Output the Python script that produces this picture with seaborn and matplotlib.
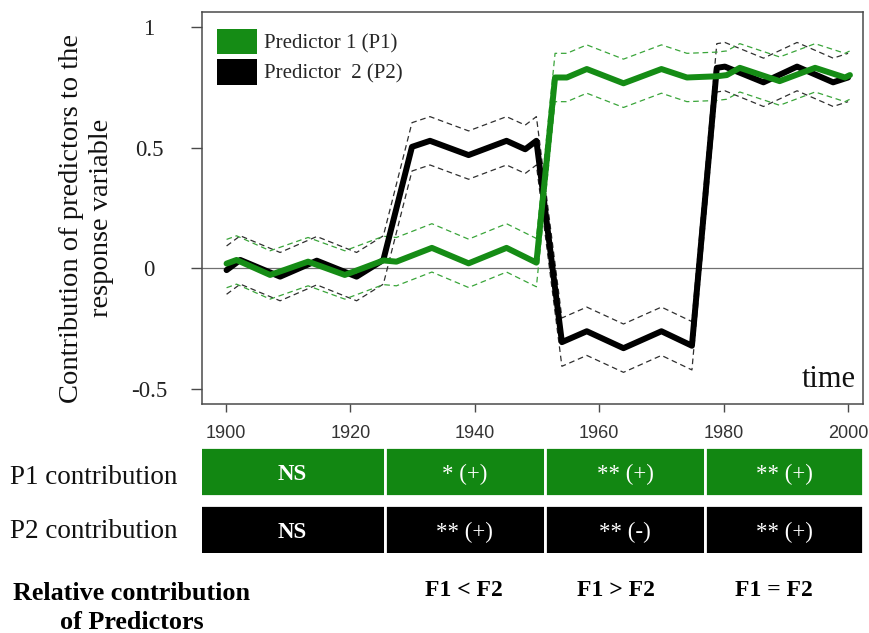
import matplotlib
matplotlib.use("Agg")
import matplotlib.pyplot as plt
from matplotlib.patches import Patch
import pandas as pd
import seaborn as sns

# ---------------- data ----------------
p1_years = [1900.1, 1901.7, 1907.1, 1913.2, 1919.1, 1925.3, 1927.4, 1933.1, 1939.0,
            1945.1, 1949.9, 1952.9, 1954.8, 1958.0, 1963.9, 1970.0, 1974.1, 1978.9,
            1980.5, 1982.6, 1989.0, 1994.7, 1999.5, 2000.3]
p1_values = [0.02, 0.035, -0.027, 0.028, -0.027, 0.033, 0.028, 0.085, 0.021,
             0.085, 0.024, 0.79, 0.79, 0.825, 0.766, 0.825, 0.79, 0.795,
             0.80, 0.83, 0.775, 0.83, 0.79, 0.80]
p1_upper = [0.12, 0.135, 0.073, 0.128, 0.073, 0.133, 0.128, 0.185, 0.121,
            0.185, 0.124, 0.89, 0.89, 0.925, 0.866, 0.925, 0.89, 0.895,
            0.90, 0.93, 0.875, 0.93, 0.89, 0.90]
p1_lower = [-0.08, -0.065, -0.127, -0.072, -0.127, -0.067, -0.072, -0.015, -0.079,
            -0.015, -0.076, 0.69, 0.69, 0.725, 0.666, 0.725, 0.69, 0.695,
            0.70, 0.73, 0.675, 0.73, 0.69, 0.70]

p2_years = [1900.1, 1902.3, 1908.7, 1914.6, 1921.0, 1925.3, 1929.9, 1932.8, 1939.0,
            1945.1, 1948.1, 1949.9, 1954.0, 1958.0, 1963.9, 1970.0, 1974.9, 1978.9,
            1980.2, 1986.4, 1991.8, 1997.6, 2000.0]
p2_values = [-0.007, 0.035, -0.034, 0.032, -0.034, 0.035, 0.503, 0.528, 0.469,
             0.528, 0.493, 0.528, -0.305, -0.26, -0.33, -0.26, -0.32, 0.83,
             0.835, 0.77, 0.835, 0.77, 0.79]
p2_upper = [0.093, 0.135, 0.066, 0.132, 0.066, 0.135, 0.603, 0.628, 0.569,
            0.628, 0.593, 0.628, -0.205, -0.16, -0.23, -0.16, -0.22, 0.93,
            0.935, 0.87, 0.935, 0.87, 0.89]
p2_lower = [-0.107, -0.065, -0.134, -0.068, -0.134, -0.065, 0.403, 0.428, 0.369,
            0.428, 0.393, 0.428, -0.405, -0.36, -0.43, -0.36, -0.42, 0.73,
            0.735, 0.67, 0.735, 0.67, 0.69]

x_ticks = [1900, 1920, 1940, 1960, 1980, 2000]
x_tick_labels = ["1900", "1920", "1940", "1960", "1980", "2000"]
y_ticks = [-0.5, 0, 0.5, 1]
y_tick_labels = ["-0.5", "0", "0.5", "1"]
legend_labels = ["Predictor 1 (P1)", "Predictor  2 (P2)"]

period_edges = [1895.8, 1925.5, 1951.3, 1977.0, 2002.4]
p1_cells = ["NS", "* (+)", "** (+)", "** (+)"]
p2_cells = ["NS", "** (+)", "** (-)", "** (+)"]
relative_labels = ["F1 < F2", "F1 > F2", "F1 = F2"]

# ---------------- style ----------------
sns.set_theme(style="white")
plt.rcParams["font.family"] = ["Liberation Serif", "DejaVu Serif"]
SERIF = ["Liberation Serif", "DejaVu Serif"]
SANS = ["Liberation Sans", "DejaVu Sans"]

GREEN = "#158c15"
GREEN_CELL = "#128712"
GREEN_CI = "#3aa53a"
BLACK_CI = "#2f2f2f"

W, H = 869, 633
def fx(px):
    return px / W
def fy(py):
    return 1 - py / H

fig = plt.figure(figsize=(8.69, 6.33), dpi=100)
fig.patch.set_facecolor("white")

L, R, T, B = 201.7, 863.0, 12.0, 404.0
ax = fig.add_axes([fx(L), fy(B), (R - L) / W, (B - T) / H])
ax.set_facecolor("white")
XLIM = (1896.1, 2002.4)

# ---------------- main lines ----------------
ax.axhline(0, color="#707070", lw=0.9, zorder=1)

ci_frames = []
for name, yrs, lo, up in [("P1", p1_years, p1_lower, p1_upper),
                          ("P2", p2_years, p2_lower, p2_upper)]:
    for bound, vals in [("lower", lo), ("upper", up)]:
        ci_frames.append(pd.DataFrame({"year": yrs, "value": vals,
                                       "series": f"{name}_{bound}"}))
ci_df = pd.concat(ci_frames, ignore_index=True)
ci_palette = {"P1_lower": GREEN_CI, "P1_upper": GREEN_CI,
              "P2_lower": BLACK_CI, "P2_upper": BLACK_CI}
for s in ["P2_lower", "P2_upper", "P1_lower", "P1_upper"]:
    sub = ci_df[ci_df["series"] == s]
    sns.lineplot(data=sub, x="year", y="value", ax=ax, color=ci_palette[s],
                 lw=0.9, linestyle=(0, (4.5, 3)), sort=False, estimator=None,
                 legend=False, zorder=2)

main_df = pd.concat([
    pd.DataFrame({"year": p2_years, "value": p2_values, "predictor": "P2"}),
    pd.DataFrame({"year": p1_years, "value": p1_values, "predictor": "P1"}),
], ignore_index=True)
sns.lineplot(data=main_df, x="year", y="value", hue="predictor",
             hue_order=["P2", "P1"], palette={"P1": GREEN, "P2": "black"},
             ax=ax, lw=4.3, sort=False, estimator=None, legend=False, zorder=3)

ax.set_xlim(*XLIM)
ax.set_ylim(-0.561, 1.061)
ax.set_xlabel("")
ax.set_ylabel("")

for sp in ax.spines.values():
    sp.set_visible(True)
    sp.set_color("#4a4a4a")
    sp.set_linewidth(1.1)

ax.set_xticks(x_ticks)
ax.set_xticklabels(x_tick_labels, fontfamily=SANS, fontsize=13, color="#333333")
ax.set_yticks(y_ticks)
ax.set_yticklabels(y_tick_labels, fontfamily=SERIF, fontsize=16.5, color="#222222",
                   ha="center")
ax.tick_params(axis="x", direction="out", length=5.8, width=1.0, color="#4a4a4a",
               pad=9, bottom=True)
ax.tick_params(axis="y", direction="out", length=8, width=1.0, color="#4a4a4a",
               pad=30, left=True)

# legend
handles = [Patch(facecolor=GREEN, edgecolor="none"),
           Patch(facecolor="black", edgecolor="none")]
ax.legend(handles, legend_labels, loc="upper left",
          bbox_to_anchor=((216.7 - L) / (R - L), (B - 29.3) / (B - T)),
          frameon=False, borderpad=0, borderaxespad=0, handlelength=1.95,
          handleheight=1.48, handletextpad=0.33, labelspacing=0.24,
          prop={"family": SERIF, "size": 15})

# "time"
fig.text(fx(856), fy(387), "time", ha="right", va="baseline",
         fontsize=22, family=SERIF, color="#111111")

# y label
fig.text(fx(86.5), fy(218), "Contribution of predictors to the\nresponse variable",
         rotation=90, ha="center", va="center", multialignment="center",
         fontsize=20.5, family=SERIF, linespacing=1.3, color="#111111")

# ---------------- table ----------------
tax = fig.add_axes([fx(L), fy(553), (R - L) / W, (553 - 448) / H])
tax.set_xlim(*XLIM)
tax.set_ylim(-0.415, 1.415)
tax.axis("off")

for i in range(len(period_edges) - 1):
    left = period_edges[i]
    width = period_edges[i + 1] - period_edges[i]
    center = left + width / 2
    tax.barh(1, width, left=left, height=0.85, color=GREEN_CELL,
             edgecolor="white", linewidth=2.0)
    tax.barh(0, width, left=left, height=0.85, color="black",
             edgecolor="white", linewidth=2.0)
    for row, cells in [(1, p1_cells), (0, p2_cells)]:
        txt = cells[i]
        bold = txt == "NS"
        tax.text(center, row - 0.05, txt, ha="center", va="center", color="white",
                 fontsize=16.5, fontweight="bold" if bold else "normal",
                 family=SERIF)

fig.text(fx(10), fy(477), "P1 contribution", ha="left", va="center",
         fontsize=19.5, family=SERIF, color="#111111")
fig.text(fx(10), fy(532), "P2 contribution", ha="left", va="center",
         fontsize=19.5, family=SERIF, color="#111111")

fig.text(fx(131.7), fy(608), "Relative contribution\nof Predictors", ha="center",
         va="center", multialignment="center", fontsize=18.8, fontweight="bold",
         family=SERIF, linespacing=1.35, color="black")
for px, lab in zip([464, 616, 774], relative_labels):
    fig.text(fx(px), fy(591), lab, ha="center", va="center", fontsize=17,
             fontweight="bold", family=SERIF, color="black")

fig.savefig("out.png", dpi=100, facecolor="white")
